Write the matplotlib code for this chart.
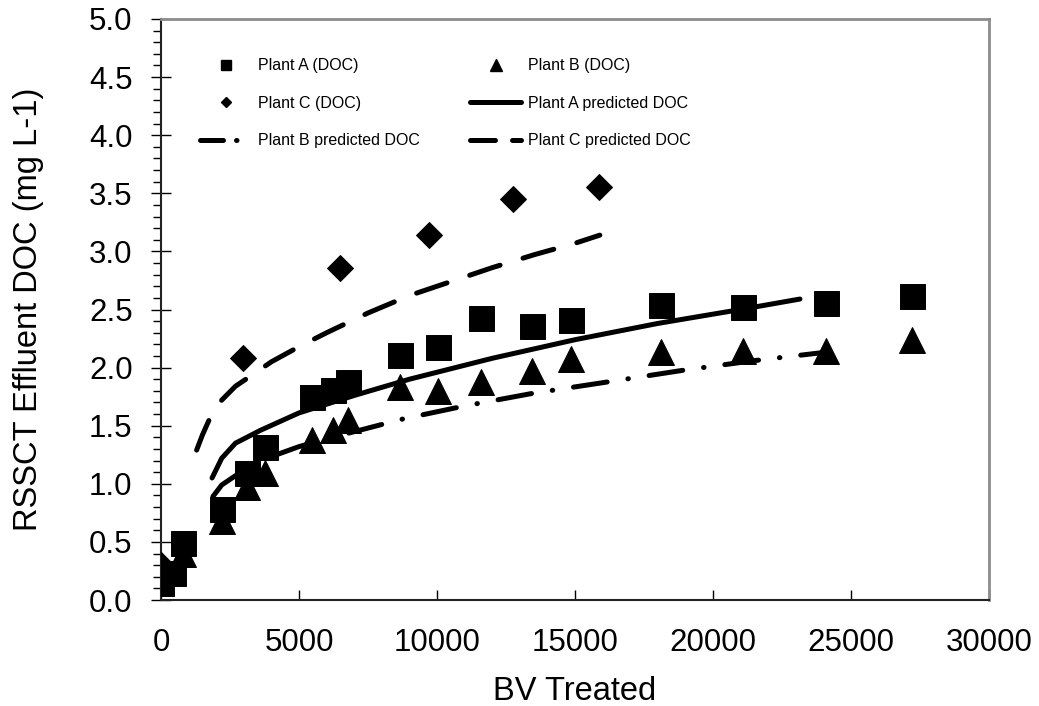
import matplotlib
matplotlib.use("Agg")
import matplotlib.pyplot as plt
from matplotlib.lines import Line2D
from matplotlib.ticker import MultipleLocator, FormatStrFormatter

plt.rcParams['font.family'] = ['Liberation Sans', 'DejaVu Sans']

# ---- data ----
a_x = [0, 435, 800, 2210, 3116, 3768, 5471, 6232, 6775, 8660, 10036, 11594, 13442, 14855, 18116, 21087, 24094, 27210]
a_y = [0.15, 0.23, 0.49, 0.78, 1.09, 1.32, 1.75, 1.81, 1.88, 2.11, 2.18, 2.43, 2.36, 2.41, 2.54, 2.52, 2.56, 2.62]

b_x = [0, 800, 2210, 3116, 3768, 5471, 6232, 6775, 8660, 10036, 11594, 13442, 14855, 18116, 21087, 24094, 27210]
b_y = [0.30, 0.40, 0.68, 0.97, 1.09, 1.38, 1.46, 1.55, 1.83, 1.80, 1.88, 1.97, 2.07, 2.13, 2.14, 2.14, 2.24]

c_x = [0, 2971, 6486, 9710, 12754, 15870]
c_y = [0.30, 2.08, 2.86, 3.14, 3.45, 3.55]

a_pred_x = [1850, 2200, 2700, 3600, 5000, 7000, 9000, 12000, 15000, 18000, 21000, 23150]
a_pred_y = [1.05, 1.22, 1.35, 1.46, 1.61, 1.76, 1.90, 2.08, 2.24, 2.38, 2.50, 2.59]

b_pred_x = [1880, 2200, 2700, 3600, 5000, 6700, 8800, 11000, 13500, 16000, 19000, 21500, 24000]
b_pred_y = [0.89, 0.99, 1.07, 1.20, 1.32, 1.43, 1.56, 1.67, 1.78, 1.87, 1.98, 2.06, 2.13]

c_pred_x = [1290, 1500, 1800, 2200, 2700, 3200, 4000, 5000, 6000, 7500, 9000, 10500, 12000, 13500, 15000, 15900]
c_pred_y = [1.29, 1.42, 1.58, 1.72, 1.84, 1.92, 2.05, 2.18, 2.30, 2.47, 2.62, 2.74, 2.86, 2.97, 3.07, 3.14]

labels = ['Plant A (DOC)', 'Plant B (DOC)', 'Plant C (DOC)',
          'Plant A predicted DOC', 'Plant B predicted DOC', 'Plant C predicted DOC']

# ---- figure ----
W, H = 1039, 706
fig = plt.figure(figsize=(W / 100, H / 100), dpi=100)
ax = fig.add_axes([161 / W, 1 - 600 / H, (989 - 161) / W, (600 - 19) / H])

LW = 3.6
dash_c = (0, (6.4, 4.8))
dash_b = (0, (6.8, 4.2, 0.1, 4.2))

ax.plot(a_x, a_y, 's', color='black', ms=18, mew=0.7, zorder=3)
ax.plot(b_x, b_y, '^', color='black', ms=19, mew=0.7, zorder=3)
ax.plot(c_x, c_y, 'D', color='black', ms=13, mew=0.7, zorder=3)

ax.plot(a_pred_x, a_pred_y, '-', color='black', lw=LW, solid_capstyle='round', zorder=4)
ax.plot(b_pred_x, b_pred_y, color='black', lw=LW, linestyle=dash_b, dash_capstyle='round', zorder=4)
ax.plot(c_pred_x, c_pred_y, color='black', lw=LW, linestyle=dash_c, dash_capstyle='round', zorder=4)

ax.set_xlim(0, 30000)
ax.set_ylim(0, 5.0)
ax.xaxis.set_major_locator(MultipleLocator(5000))
ax.yaxis.set_major_locator(MultipleLocator(0.5))
ax.yaxis.set_minor_locator(MultipleLocator(0.1))
ax.yaxis.set_major_formatter(FormatStrFormatter('%.1f'))

ax.tick_params(axis='x', which='major', direction='in', length=7, width=1, labelsize=22.5, pad=20)
ax.tick_params(axis='y', which='major', direction='inout', length=14, width=1, labelsize=22.5, pad=13.5)
ax.tick_params(axis='y', which='minor', direction='out', length=6, width=1)

for s in ['left', 'bottom']:
    ax.spines[s].set_color('#222222')
    ax.spines[s].set_linewidth(1.5)
for s in ['top', 'right']:
    ax.spines[s].set_color('#8c8c8c')
    ax.spines[s].set_linewidth(2)

ax.set_xlabel('BV Treated', fontsize=23.5, labelpad=13)
ax.set_ylabel('RSSCT Effluent DOC (mg L-1)', fontsize=23.5, labelpad=32)

leg_dash_b = (0, (4.6, 2.6, 0.1, 5.0))
leg_dash_c = (0, (5.0, 3.4))
handles = [
    Line2D([], [], marker='s', color='black', linestyle='none', ms=7),
    Line2D([], [], marker='D', color='black', linestyle='none', ms=5.5),
    Line2D([], [], color='black', lw=LW, linestyle=leg_dash_b, dash_capstyle='round'),
    Line2D([], [], marker='^', color='black', linestyle='none', ms=8),
    Line2D([], [], color='black', lw=LW, linestyle='-', solid_capstyle='round'),
    Line2D([], [], color='black', lw=LW, linestyle=leg_dash_c, dash_capstyle='round'),
]
hl = [labels[0], labels[2], labels[4], labels[1], labels[3], labels[5]]
fig.legend(handles, hl, loc='upper left', bbox_to_anchor=(194 / W, 1 - 52 / H),
           ncol=2, frameon=False, fontsize=11.5, handlelength=3.2, handletextpad=0.4,
           columnspacing=3.16, labelspacing=1.4, borderaxespad=0, borderpad=0.4)

fig.savefig('out.png', dpi=100)
